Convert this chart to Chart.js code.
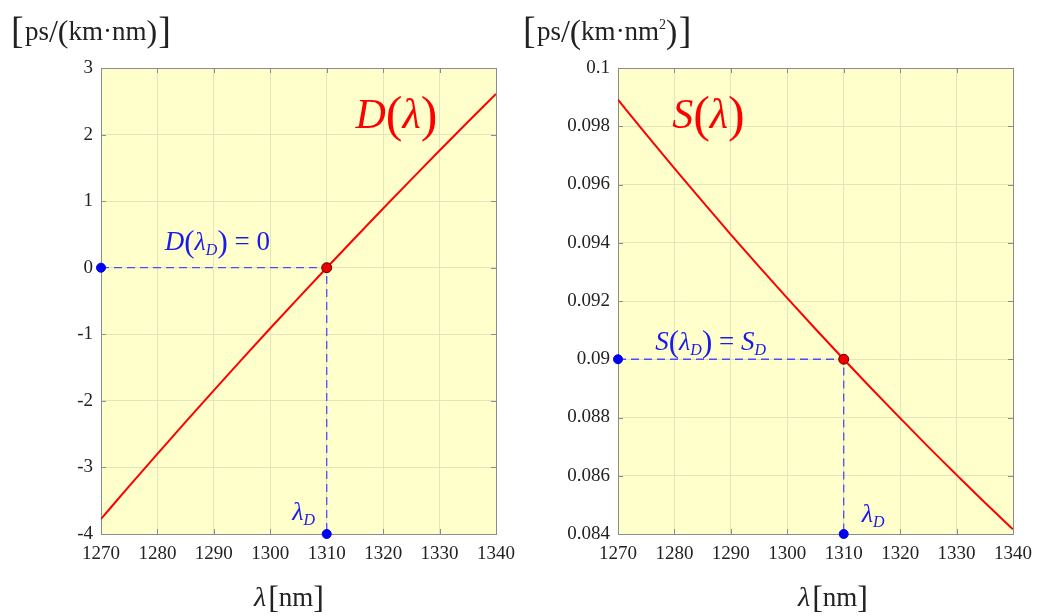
<!DOCTYPE html>
<html lang="en">
<head>
    <meta charset="utf-8" />
    <title>Dispersion and dispersion slope</title>
    <script src="https://cdn.jsdelivr.net/npm/chart.js@4.4.1/dist/chart.umd.min.js"></script>
    <style>
        html, body { margin: 0; padding: 0; background: #fff; }
        .wrap { position: relative; width: 1037px; height: 616px; }
        .panel { position: absolute; top: 0; height: 616px; }
        #left { left: 0; width: 518px; }
        #right { left: 518px; width: 519px; }
    </style>
</head>
<body>
<div class="wrap">
    <div class="panel" id="left"><canvas id="dChart" width="518" height="616"></canvas></div>
    <div class="panel" id="right"><canvas id="sChart" width="519" height="616"></canvas></div>
</div>
<script>
    // wavelength samples [nm]
    const wavelengths = [1270, 1275, 1280, 1285, 1290, 1295, 1300, 1305, 1310, 1315, 1320, 1325, 1330, 1335, 1340];
    // chromatic dispersion D [ps/(km*nm)]
    const dispersion = [-3.774, -3.282, -2.796, -2.316, -1.842, -1.374, -0.910, -0.453, 0, 0.447, 0.890, 1.327, 1.760, 2.188, 2.611];
    // dispersion slope S [ps/(km*nm^2)]
    const slope = [0.09891, 0.09772, 0.09655, 0.09541, 0.09428, 0.09318, 0.09210, 0.09104, 0.09000, 0.08898, 0.08798, 0.08699, 0.08603, 0.08508, 0.08416];

    const xTicks = [1270, 1280, 1290, 1300, 1310, 1320, 1330, 1340];
    const dTicks = [-4, -3, -2, -1, 0, 1, 2, 3];
    const sTicks = [0.084, 0.086, 0.088, 0.09, 0.092, 0.094, 0.096, 0.098, 0.1];

    const lambdaZero = 1310;   // zero-dispersion wavelength
    const dAtZero = 0;
    const sAtZero = 0.09;

    const SERIF = '"Liberation Serif", "Times New Roman", serif';
    const PLOT_BG = '#ffffcc';
    const GRID = '#e4e4bc';
    const BOX = '#8c8c8c';
    const RED = '#ff0000';
    const BLUE = '#1a1aee';
    const GUIDE = '#4d4dff';

    // text built from pieces: [string, font, vertical offset]
    function partsWidth(ctx, parts) {
        let w = 0;
        for (const p of parts) { ctx.font = p[1]; w += ctx.measureText(p[0]).width; }
        return w;
    }
    function drawParts(ctx, x, y, parts, color, align) {
        ctx.save();
        ctx.fillStyle = color;
        ctx.textAlign = 'left';
        ctx.textBaseline = 'alphabetic';
        if (align === 'center') x -= partsWidth(ctx, parts) / 2;
        for (const p of parts) {
            ctx.font = p[1];
            ctx.fillText(p[0], x, y + (p[2] || 0));
            x += ctx.measureText(p[0]).width;
        }
        ctx.restore();
    }

    const plotFrame = {
        id: 'plotFrame',
        beforeDraw(chart) {
            const { ctx, chartArea: a } = chart;
            ctx.save();
            ctx.fillStyle = PLOT_BG;
            ctx.fillRect(a.left, a.top, a.right - a.left, a.bottom - a.top);
            ctx.restore();
        },
        beforeDatasetsDraw(chart) {
            const { ctx, chartArea: a, scales } = chart;
            ctx.save();
            ctx.strokeStyle = BOX;
            ctx.lineWidth = 1;
            // inward tick marks on all four sides
            ctx.beginPath();
            for (const t of scales.x.ticks) {
                const px = Math.round(scales.x.getPixelForValue(t.value)) + 0.5;
                ctx.moveTo(px, a.top); ctx.lineTo(px, a.top + 5);
                ctx.moveTo(px, a.bottom); ctx.lineTo(px, a.bottom - 5);
            }
            for (const t of scales.y.ticks) {
                const py = Math.round(scales.y.getPixelForValue(t.value)) + 0.5;
                ctx.moveTo(a.left, py); ctx.lineTo(a.left + 5, py);
                ctx.moveTo(a.right, py); ctx.lineTo(a.right - 5, py);
            }
            ctx.stroke();
            ctx.strokeRect(Math.round(a.left) + 0.5, Math.round(a.top) + 0.5,
                Math.round(a.right - a.left), Math.round(a.bottom - a.top));
            ctx.restore();
        },
        afterDraw(chart) {
            const opts = chart.options.plugins.plotFrame;
            const { ctx, scales } = chart;
            drawParts(ctx, opts.unitX, 40, opts.units, '#222');
            drawParts(ctx, opts.titleX, 606, [
                ['\u03bb', 'italic 28px ' + SERIF],
                [' ', '8px ' + SERIF],
                ['[', '32px ' + SERIF, 2],
                ['nm', '27px ' + SERIF],
                [']', '32px ' + SERIF, 2]
            ], '#222', 'center');
            for (const n of opts.notes) {
                drawParts(ctx, scales.x.getPixelForValue(n.x), scales.y.getPixelForValue(n.y), n.parts, n.color);
            }
        }
    };

    function baseOptions(yTicks, right, cfg) {
        return {
            responsive: false,
            animation: false,
            layout: { padding: { left: 0, top: 68, right: right, bottom: 42 } },
            plugins: { legend: { display: false }, tooltip: { enabled: false }, plotFrame: cfg },
            scales: {
                x: {
                    type: 'linear',
                    min: xTicks[0], max: xTicks[xTicks.length - 1],
                    afterBuildTicks: s => { s.ticks = xTicks.map(v => ({ value: v })); },
                    afterFit: s => { s.height = 40; s.paddingLeft = 0; s.paddingRight = 0; },
                    grid: { color: GRID, drawTicks: false },
                    border: { display: false },
                    ticks: { color: '#222', padding: 9, font: { family: SERIF, size: 19 }, callback: v => String(v) }
                },
                y: {
                    type: 'linear',
                    min: yTicks[0], max: yTicks[yTicks.length - 1],
                    afterBuildTicks: s => { s.ticks = yTicks.map(v => ({ value: v })); },
                    afterFit: s => { s.width = cfg.axisWidth; s.paddingTop = 0; s.paddingBottom = 0; },
                    grid: { color: GRID, drawTicks: false },
                    border: { display: false },
                    ticks: { color: '#222', padding: 8, font: { family: SERIF, size: 19 }, callback: v => String(+v.toFixed(3)) }
                }
            }
        };
    }

    function curveData(values) {
        return wavelengths.map((w, i) => ({ x: w, y: values[i] }));
    }

    function datasets(values, yZero, yMin) {
        return [
            { data: [{ x: xTicks[0], y: yZero }, { x: lambdaZero, y: yZero }, { x: lambdaZero, y: yMin }], showLine: true,
              borderColor: GUIDE, borderWidth: 1.3, borderDash: [8, 5], pointRadius: 0 },
            { data: curveData(values), showLine: true, borderColor: RED, borderWidth: 2, pointRadius: 0, cubicInterpolationMode: 'monotone' },
            { data: [{ x: xTicks[0], y: yZero }, { x: lambdaZero, y: yMin }], showLine: false, clip: false,
              pointRadius: 4.5, pointBackgroundColor: '#0000ee', pointBorderColor: '#0000ee' },
            { data: [{ x: lambdaZero, y: yZero }], showLine: false, clip: false,
              pointRadius: 5, pointBackgroundColor: '#ee0000', pointBorderColor: '#5a0000', pointBorderWidth: 1 }
        ].reverse();
    }

    const lamD = [
        ['\u03bb', 'italic 26px ' + SERIF],
        ['D', 'italic 16px ' + SERIF, 5]
    ];

    new Chart(document.getElementById('dChart'), {
        type: 'scatter',
        data: { datasets: datasets(dispersion, dAtZero, dTicks[0]) },
        plugins: [plotFrame],
        options: baseOptions(dTicks, 22, {
            axisWidth: 101,
            unitX: 11,
            titleX: 289,
            units: [
                ['[', '38px ' + SERIF, 3], [' ', '5px ' + SERIF],
                ['ps', '27px ' + SERIF], ['/', '32px ' + SERIF, 2],
                ['(', '32px ' + SERIF, 2], ['km\u00b7nm', '27px ' + SERIF],
                [')', '32px ' + SERIF, 2], [' ', '5px ' + SERIF], [']', '38px ' + SERIF, 3]
            ],
            notes: [
                { x: 1315.1, y: 2.1, color: RED, parts: [
                    ['D', 'italic 42px ' + SERIF], ['(', '50px ' + SERIF, 3],
                    ['\u03bb', 'italic 42px ' + SERIF], [')', '50px ' + SERIF, 3]] },
                { x: 1281.3, y: 0.27, color: BLUE, parts: [
                    ['D', 'italic 27px ' + SERIF], ['(', '31px ' + SERIF, 2],
                    ...lamD, [')', '31px ' + SERIF, 2], [' = 0', '27px ' + SERIF]] },
                { x: 1303.9, y: -3.79, color: BLUE, parts: lamD }
            ]
        })
    });

    new Chart(document.getElementById('sChart'), {
        type: 'scatter',
        data: { datasets: datasets(slope, sAtZero, sTicks[0]) },
        plugins: [plotFrame],
        options: baseOptions(sTicks, 24, {
            axisWidth: 100,
            unitX: 5,
            titleX: 315,
            units: [
                ['[', '38px ' + SERIF, 3], [' ', '5px ' + SERIF],
                ['ps', '27px ' + SERIF], ['/', '32px ' + SERIF, 2],
                ['(', '34px ' + SERIF, 3], ['km\u00b7nm', '27px ' + SERIF],
                ['2', '14px ' + SERIF, -11],
                [')', '34px ' + SERIF, 3], [' ', '5px ' + SERIF], [']', '38px ' + SERIF, 3]
            ],
            notes: [
                { x: 1279.6, y: 0.09794, color: RED, parts: [
                    ['S', 'italic 42px ' + SERIF], ['(', '50px ' + SERIF, 3],
                    ['\u03bb', 'italic 42px ' + SERIF], [')', '50px ' + SERIF, 3]] },
                { x: 1276.6, y: 0.09032, color: BLUE, parts: [
                    ['S', 'italic 27px ' + SERIF], ['(', '31px ' + SERIF, 2],
                    ...lamD, [')', '31px ' + SERIF, 2], [' = ', '27px ' + SERIF],
                    ['S', 'italic 27px ' + SERIF], ['D', 'italic 16px ' + SERIF, 5]] },
                { x: 1313.2, y: 0.08441, color: BLUE, parts: lamD }
            ]
        })
    });
</script>
</body>
</html>
